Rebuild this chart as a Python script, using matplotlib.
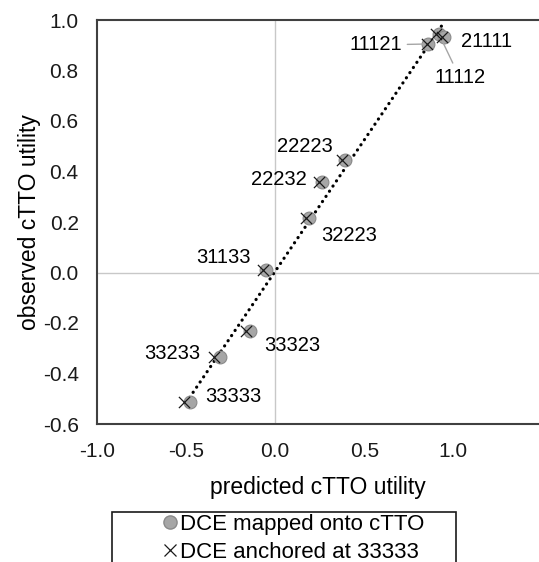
import matplotlib
matplotlib.use("Agg")
import matplotlib.pyplot as plt
from matplotlib.lines import Line2D
from matplotlib.patches import Rectangle
import numpy as np

plt.rcParams['font.family'] = ['Liberation Sans', 'DejaVu Sans']
plt.rcParams['axes.unicode_minus'] = False

# ---- data ----
states = ["11121", "11112", "21111", "22223", "22232", "32223",
          "31133", "33323", "33233", "33333"]
observed = [0.905, 0.946, 0.933, 0.444, 0.359, 0.216,
            0.011, -0.232, -0.335, -0.513]
pred_mapped = [0.858, 0.918, 0.946, 0.390, 0.264, 0.190,
               -0.048, -0.141, -0.311, -0.479]
pred_anchored = [0.850, 0.905, 0.935, 0.376, 0.245, 0.171,
                 -0.068, -0.165, -0.343, -0.511]

# label positions (data coords) and whether a leader line is drawn
label_pos = {
    "11121": (0.563, 0.901), "21111": (1.185, 0.914), "11112": (1.036, 0.771),
    "22223": (0.165, 0.499), "22232": (0.021, 0.368), "32223": (0.417, 0.145),
    "31133": (-0.287, 0.059), "33323": (0.098, -0.289), "33233": (-0.577, -0.320),
    "33333": (-0.235, -0.493),
}
leaders = {"11121", "11112"}

xticks = [-1.0, -0.5, 0.0, 0.5, 1.0]
yticks = [-0.6, -0.4, -0.2, 0.0, 0.2, 0.4, 0.6, 0.8, 1.0]

W, H = 539, 562
fig = plt.figure(figsize=(W / 100, H / 100), dpi=100)
ax = fig.add_axes([96.7 / W, 1 - 424 / H, 1 - 96.7 / W, (424 - 20) / H])
ax.set_xlim(-1.0, 1.48)
ax.set_ylim(-0.6, 1.0)

# zero lines
ax.axhline(0, color="#c8c8c8", lw=1.0, zorder=0)
ax.axvline(0, color="#c8c8c8", lw=1.0, zorder=0)

# trendline (linear fit)
px = np.array(pred_mapped)
py = np.array(observed)
slope, icpt = np.polyfit(px, py, 1)
xs = np.array([px.min(), px.max()])
ax.plot(xs, slope * xs + icpt, color="black", lw=2.3,
        linestyle=(0, (0.05, 1.9)), dash_capstyle="round", zorder=2)

ax.scatter(pred_mapped, observed, s=85, facecolor="#a6a6a6",
           edgecolor="#8a8a8a", linewidth=0.8, zorder=3)
ax.scatter(pred_anchored, observed, s=65, marker="x", color="#1a1a1a",
           linewidth=0.9, zorder=4)

for st, xv, yv in zip(states, pred_mapped, observed):
    tx, ty = label_pos[st]
    if st in leaders:
        ax.annotate(st, xy=(xv, yv), xytext=(tx, ty), fontsize=14.5,
                    ha="center", va="center",
                    arrowprops=dict(arrowstyle="-", color="#a6a6a6", lw=1.0,
                                    shrinkA=2, shrinkB=3))
    else:
        ax.text(tx, ty, st, fontsize=14.5, ha="center", va="center")

ax.set_xticks(xticks)
ax.set_xticklabels([f"{v:.1f}" for v in xticks])
ax.set_yticks(yticks)
ax.set_yticklabels([f"{v:.1f}" for v in yticks])
ax.tick_params(length=0, labelsize=15, pad=13, colors="#1a1a1a")

for s in ["left", "bottom", "top"]:
    ax.spines[s].set_color("#404040")
    ax.spines[s].set_linewidth(1.5)
ax.spines["right"].set_visible(False)

ax.set_xlabel("predicted cTTO utility", fontsize=16.5, labelpad=11)
ax.set_ylabel("observed cTTO utility", fontsize=16.5, labelpad=1)

# legend
handles = [
    Line2D([], [], marker="o", linestyle="none", markersize=9.5,
           markerfacecolor="#a6a6a6", markeredgecolor="#8a8a8a"),
    Line2D([], [], marker="x", linestyle="none", markersize=8.5,
           color="#1a1a1a", markeredgewidth=0.9),
]
fig.legend(handles, ["DCE mapped onto cTTO", "DCE anchored at 33333"],
           loc="upper left", bbox_to_anchor=(161 / W, 1 - 514 / H),
           frameon=False, fontsize=16, handlelength=0.8, handletextpad=0.05,
           borderpad=0, borderaxespad=0, labelspacing=0.32)
fig.patches.append(Rectangle((112 / W, -0.02), (456 - 112) / W,
                             (562 - 512) / H + 0.02,
                             transform=fig.transFigure, fill=False,
                             edgecolor="#1a1a1a", lw=1.2))

fig.savefig("out.png", dpi=100)
